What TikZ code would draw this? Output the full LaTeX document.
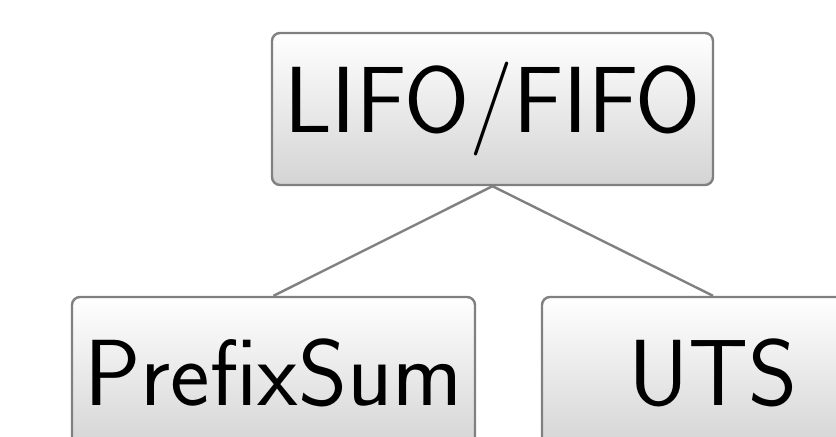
\documentclass[tikz,border=0pt]{standalone}
\usepackage{fontspec}
\usepackage{xcolor}
\usepackage{tikz}
\usetikzlibrary{backgrounds}

\definecolor{boxline}{RGB}{128,128,128}
\definecolor{boxbottom}{RGB}{212,212,212}

\tikzset{
  taskbox/.style={draw=boxline, line width=1.2pt, rounded corners=4pt,
    top color=white, bottom color=boxbottom, inner sep=0pt,
    minimum height=76pt, font=\sffamily\fontsize{47}{56}\selectfont},
  tasklink/.style={draw=boxline, line width=1.2pt}
}

\begin{document}
\begin{tikzpicture}[x=0.5pt, y=-0.5pt]
\useasboundingbox (0,0) rectangle (836,437);

\node (queue) at (492.5,109) [taskbox, minimum width=220.5pt] {LIFO/FIFO};

\node (prefix) at (273.5,373) [taskbox, minimum width=201.5pt] {PrefixSum};
\node (uts) at (713,373) [taskbox, minimum width=171pt] {UTS};

\draw [tasklink] (queue.south) -- (prefix.north);
\draw [tasklink] (queue.south) -- (uts.north);
\end{tikzpicture}
\end{document}
